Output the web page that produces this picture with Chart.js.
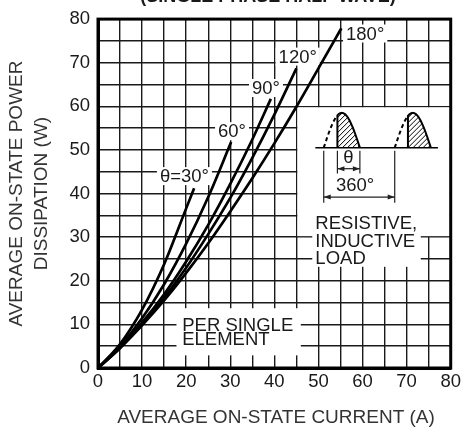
<!DOCTYPE html>
<html>
<head>
<meta charset="utf-8">
<script src="https://cdn.jsdelivr.net/npm/chart.js@4"></script>
<style>
  html, body { margin: 0; padding: 0; background: #fff; }
  #wrap { width: 464px; height: 430px; }
</style>
</head>
<body>
<div id="wrap"><canvas id="c" width="464" height="430"></canvas></div>
<script>
// curves: average current (A) -> power (W)
const current30  = [0, 5, 10, 15, 20, 21.8];
const power30    = [0, 5.5, 13.4, 23.8, 36.6, 41.2];
const current60  = [0, 5, 10, 15, 20, 25, 30.2];
const power60    = [0, 5.0, 11.4, 19.2, 28.5, 39.2, 51.8];
const current90  = [0, 5, 10, 15, 20, 25, 30, 35, 39.2];
const power90    = [0, 4.7, 10.4, 16.9, 24.4, 32.8, 42.2, 52.4, 61.7];
const current120 = [0, 5, 10, 15, 20, 25, 30, 35, 40, 45];
const power120   = [0, 4.6, 10.0, 16.1, 23.0, 30.7, 39.0, 48.2, 58.1, 68.7];
const current180 = [0, 5, 10, 15, 20, 25, 30, 35, 40, 45, 50, 55.2];
const power180   = [0, 4.6, 9.8, 15.5, 21.8, 28.6, 35.9, 43.5, 51.5, 59.9, 68.7, 77.9];

const angleLabels = ["θ=30°", "60°", "90°", "120°", "180°"];
const xTicks = [0, 10, 20, 30, 40, 50, 60, 70, 80];
const yTicks = [0, 10, 20, 30, 40, 50, 60, 70, 80];

const FONT = "'Liberation Sans', Arial, sans-serif";
const INK = "#1a1a1a";

function pts(xs, ys) { return xs.map((x, i) => ({ x, y: ys[i] })); }

function curve(data) {
  return { data, borderColor: "#000", borderWidth: 2.7, pointRadius: 0,
           fill: false, cubicInterpolationMode: "monotone" };
}

// label spots in data units (x, y)
const labelPos = [[19.6, 44.0], [30.4, 54.3], [38.1, 64.2], [45.3, 71.4], [60.6, 76.7]];

const deco = {
  id: "deco",
  beforeDatasetsDraw(chart) {
    const { ctx } = chart;
    const X = v => chart.scales.x.getPixelForValue(v);
    const Y = v => chart.scales.y.getPixelForValue(v);
    ctx.save();
    ctx.fillStyle = "#fff";
    // angle label backgrounds
    ctx.font = "18.5px " + FONT;
    angleLabels.forEach((t, i) => {
      const w = ctx.measureText(t).width;
      const cx = X(labelPos[i][0]), cy = Y(labelPos[i][1]);
      ctx.fillRect(cx - w / 2 - 3, cy - 9, w + 6, 18);
    });
    // inset box
    ctx.fillRect(X(45) + 1, Y(60) + 1, X(80) - X(45) - 2, Y(30) - Y(60) - 2);
    // load text box
    ctx.fillRect(X(48.6), Y(35), X(73.2) - X(48.6), Y(23.2) - Y(35));
    // per element box
    ctx.fillRect(X(17.8), Y(13.7), X(46) - X(17.8), Y(2.9) - Y(13.7));
    ctx.restore();
  },
  afterDatasetsDraw(chart) {
    const { ctx, chartArea: a } = chart;
    const X = v => chart.scales.x.getPixelForValue(v);
    const Y = v => chart.scales.y.getPixelForValue(v);
    ctx.save();
    ctx.fillStyle = INK;
    ctx.font = "18.5px " + FONT;
    ctx.textAlign = "center";
    ctx.textBaseline = "middle";
    angleLabels.forEach((t, i) => ctx.fillText(t, X(labelPos[i][0]), Y(labelPos[i][1]) + 1));

    ctx.textAlign = "left";
    ctx.fillText("PER SINGLE", X(19.1), Y(9.7));
    ctx.fillText("ELEMENT", X(19.1), Y(6.4));
    ctx.fillText("RESISTIVE,", X(49.3), Y(33.0));
    ctx.fillText("INDUCTIVE", X(49.3), Y(29.0));
    ctx.fillText("LOAD", X(49.3), Y(25.1));

    // waveform inset
    const base = 50.5, amp = 8, half = 8.2;
    ctx.strokeStyle = "#000";
    ctx.lineWidth = 1.4;
    ctx.beginPath();
    ctx.moveTo(X(49.3), Y(base)); ctx.lineTo(X(77.1), Y(base));
    ctx.stroke();
    [[51.2, 54.3], [67.3, 70.3]].forEach(([s, f]) => {
      const yAt = x => base + amp * Math.sin(Math.PI * (x - s) / half);
      // hatching
      ctx.save();
      ctx.beginPath();
      ctx.moveTo(X(f), Y(base));
      for (let x = f; x <= s + half + 0.001; x += 0.1) ctx.lineTo(X(x), Y(yAt(x)));
      ctx.closePath();
      ctx.clip();
      ctx.lineWidth = 1;
      ctx.beginPath();
      for (let k = -60; k < 60; k += 5) {
        ctx.moveTo(X(f) + k, Y(base));
        ctx.lineTo(X(f) + k + 40, Y(base) - 40);
      }
      ctx.stroke();
      ctx.restore();
      // dashed lead-in
      ctx.lineWidth = 2;
      ctx.setLineDash([4, 3]);
      ctx.beginPath();
      for (let x = s; x <= f; x += 0.1) {
        if (x === s) ctx.moveTo(X(x), Y(yAt(x))); else ctx.lineTo(X(x), Y(yAt(x)));
      }
      ctx.stroke();
      ctx.setLineDash([]);
      // conducting part
      ctx.beginPath();
      ctx.moveTo(X(f), Y(base));
      for (let x = f; x <= s + half + 0.001; x += 0.1) ctx.lineTo(X(x), Y(yAt(x)));
      ctx.stroke();
    });

    // dimension lines
    ctx.lineWidth = 1.2;
    ctx.strokeStyle = "#222";
    ctx.beginPath();
    [[51.2, 37.9], [54.3, 44.6], [59.4, 44.6], [67.3, 37.9]].forEach(([x, y]) => {
      ctx.moveTo(X(x), Y(49.8)); ctx.lineTo(X(x), Y(y));
    });
    ctx.stroke();
    function arrow(x1, x2, y) {
      const p1 = X(x1), p2 = X(x2), py = Y(y);
      ctx.beginPath(); ctx.moveTo(p1, py); ctx.lineTo(p2, py); ctx.stroke();
      ctx.beginPath();
      ctx.moveTo(p1, py); ctx.lineTo(p1 + 7, py - 2.5); ctx.lineTo(p1 + 7, py + 2.5); ctx.closePath();
      ctx.moveTo(p2, py); ctx.lineTo(p2 - 7, py - 2.5); ctx.lineTo(p2 - 7, py + 2.5); ctx.closePath();
      ctx.fill();
    }
    ctx.fillStyle = "#222";
    arrow(54.3, 59.4, 45.7);
    arrow(51.2, 67.3, 39.2);
    ctx.fillStyle = INK;
    ctx.textAlign = "center";
    ctx.fillText("θ", X(56.8), Y(48.2));
    ctx.fillText("360°", X(58.3), Y(41.8));

    // frame
    ctx.lineWidth = 3;
    ctx.strokeStyle = "#000";
    ctx.strokeRect(a.left, a.top, a.right - a.left, a.bottom - a.top);
    ctx.restore();
  },
  afterDraw(chart) {
    const { ctx, chartArea: a } = chart;
    ctx.save();
    ctx.fillStyle = INK;
    ctx.textAlign = "center";
    ctx.textBaseline = "alphabetic";
    ctx.font = "bold 18px " + FONT;
    ctx.fillText("(SINGLE PHASE HALF WAVE)", 268, 1.5);
    ctx.font = "19px " + FONT;
    ctx.fillStyle = "#333";
    ctx.textBaseline = "middle";
    ctx.fillText("AVERAGE ON-STATE CURRENT (A)", 276, 418);
    const cy = (a.top + a.bottom) / 2;
    ctx.translate(0, cy);
    ctx.rotate(-Math.PI / 2);
    ctx.fillText("AVERAGE ON-STATE POWER", 0, 17);
    ctx.fillText("DISSIPATION (W)", 0, 42);
    ctx.restore();
  }
};

new Chart(document.getElementById("c"), {
  type: "line",
  data: {
    datasets: [
      curve(pts(current30, power30)),
      curve(pts(current60, power60)),
      curve(pts(current90, power90)),
      curve(pts(current120, power120)),
      curve(pts(current180, power180))
    ]
  },
  options: {
    responsive: false,
    animation: false,
    layout: { padding: { left: 0, right: 11, top: 13, bottom: 0 } },
    plugins: { legend: { display: false }, tooltip: { enabled: false } },
    scales: {
      x: {
        type: "linear", min: 0, max: 80,
        afterFit(s) { s.height = 62; },
        afterBuildTicks(s) { s.ticks = []; for (let v = 0; v <= 80; v += 5) s.ticks.push({ value: v }); },
        grid: { color: "#1a1a1a", lineWidth: 1.4, drawTicks: false },
        border: { display: true, color: "#000", width: 3 },
        ticks: {
          padding: 3, color: INK, font: { family: FONT, size: 18.5 }, maxRotation: 0, autoSkip: false,
          callback: v => xTicks.includes(v) ? String(v) : ""
        }
      },
      y: {
        type: "linear", min: 0, max: 80,
        afterFit(s) { s.width = 98; },
        afterBuildTicks(s) { s.ticks = []; for (let v = 0; v <= 80; v += 5) s.ticks.push({ value: v }); },
        grid: { color: "#1a1a1a", lineWidth: 1.4, drawTicks: false },
        border: { display: true, color: "#000", width: 3 },
        ticks: {
          padding: 8, color: INK, font: { family: FONT, size: 18.5 }, autoSkip: false,
          callback: v => yTicks.includes(v) ? String(v) : ""
        }
      }
    }
  },
  plugins: [deco]
});
</script>
</body>
</html>
